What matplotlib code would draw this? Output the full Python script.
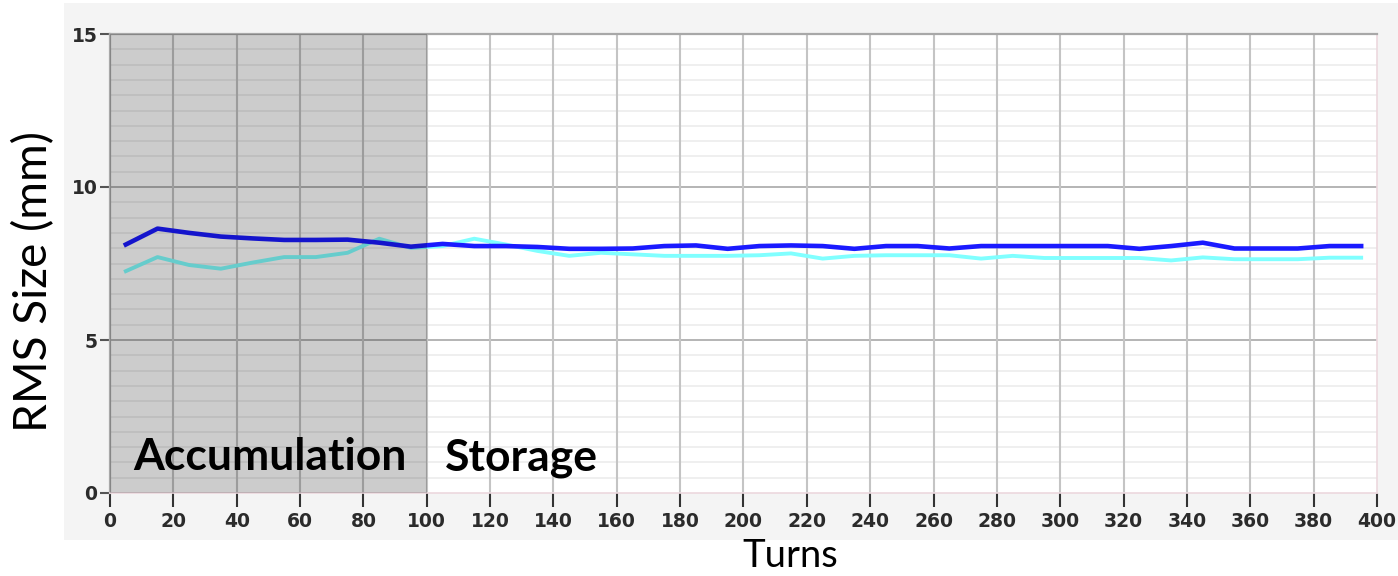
import matplotlib
matplotlib.use("Agg")
import matplotlib.pyplot as plt
import numpy as np

turns = [5, 15, 25, 35, 45, 55, 65, 75, 85, 95,
         105, 115, 125, 135, 145, 155, 165, 175, 185, 195,
         205, 215, 225, 235, 245, 255, 265, 275, 285, 295,
         305, 315, 325, 335, 345, 355, 365, 375, 385, 395]
rms_dark = [8.12, 8.64, 8.50, 8.38, 8.32, 8.27, 8.27, 8.28, 8.18, 8.05,
            8.14, 8.07, 8.07, 8.04, 7.98, 7.98, 7.99, 8.07, 8.09, 7.98,
            8.07, 8.09, 8.07, 7.98, 8.07, 8.07, 7.99, 8.07, 8.07, 8.07,
            8.07, 8.07, 7.98, 8.07, 8.18, 7.99, 7.99, 7.99, 8.07, 8.07]
rms_light = [7.25, 7.71, 7.45, 7.33, 7.53, 7.71, 7.71, 7.85, 8.31, 8.01,
             8.07, 8.31, 8.12, 7.91, 7.75, 7.85, 7.80, 7.75, 7.75, 7.75,
             7.77, 7.83, 7.66, 7.75, 7.77, 7.77, 7.77, 7.66, 7.75, 7.68,
             7.68, 7.68, 7.68, 7.60, 7.70, 7.64, 7.64, 7.64, 7.69, 7.69]
x_ticks = list(range(0, 401, 20))
y_ticks = [0, 5, 10, 15]
phase_labels = ["Accumulation", "Storage"]

W, H = 1398, 576
fig = plt.figure(figsize=(W / 100, H / 100), dpi=100)
fig.patch.set_facecolor("white")

bg = fig.add_axes([64 / W, (H - 540) / H, 1 - 64 / W, (540 - 3) / H])
bg.set_facecolor("#f4f4f4")
bg.set_xticks([]); bg.set_yticks([])
for s in bg.spines.values():
    s.set_visible(False)
bg.set_zorder(0)

ax = fig.add_axes([110 / W, 1 - 493 / H, (1377 - 110) / W, (493 - 34) / H])
ax.set_zorder(1)
ax.set_facecolor("white")
ax.set_xlim(0, 400)
ax.set_ylim(0, 15)

# grid
for yv in np.arange(0.5, 15, 0.5):
    if yv % 5 != 0:
        ax.axhline(yv, color="#ececec", lw=1.2, zorder=1)
for yv in [5, 10]:
    ax.axhline(yv, color="#b4b4b4", lw=1.4, zorder=1)
for xv in x_ticks[1:-1]:
    ax.axvline(xv, color="#c4c4c4", lw=1.5, zorder=1)

ax.plot(turns, rms_light, color="#80ffff", lw=2.8, zorder=3, solid_joinstyle="round")
ax.plot(turns, rms_dark, color="#1a1aff", lw=3.3, zorder=4, solid_joinstyle="round")

ax.axvspan(0, 100, color="black", alpha=0.2, lw=0, zorder=5)

ax.set_xticks(x_ticks)
ax.set_yticks(y_ticks)
ax.set_xticklabels([str(v) for v in x_ticks], fontsize=13.5, fontweight="bold", color="#2b2b2b")
ax.set_yticklabels([str(v) for v in y_ticks], fontsize=13.5, fontweight="bold", color="#2b2b2b")
ax.tick_params(axis="x", length=10, width=1.5, color="#333333", pad=4, direction="out")
ax.tick_params(axis="y", length=7, width=1.5, color="#555555", pad=2, direction="out")

for s in ["left", "top"]:
    ax.spines[s].set_color("#a8a8a8")
    ax.spines[s].set_linewidth(1.6)
for s in ["right", "bottom"]:
    ax.spines[s].set_color("#ecd8de")
    ax.spines[s].set_linewidth(1.2)

ax.text(7.3, 0.75, phase_labels[0], fontsize=32, fontweight="bold", family="Lato",
        color="black", ha="left", va="baseline", zorder=6)
ax.text(105.7, 0.75, phase_labels[1], fontsize=32, fontweight="bold", family="Lato",
        color="black", ha="left", va="baseline", zorder=6)

fig.text(34 / W, 1 - 282 / H, "RMS Size (mm)", rotation=90, fontsize=33, family="Lato",
         ha="center", va="center", color="black")
fig.text(790 / W, 1 - 556 / H, "Turns", fontsize=27.5, family="Lato",
         ha="center", va="center", color="black")

fig.savefig("out.png", dpi=100, facecolor=fig.get_facecolor())
